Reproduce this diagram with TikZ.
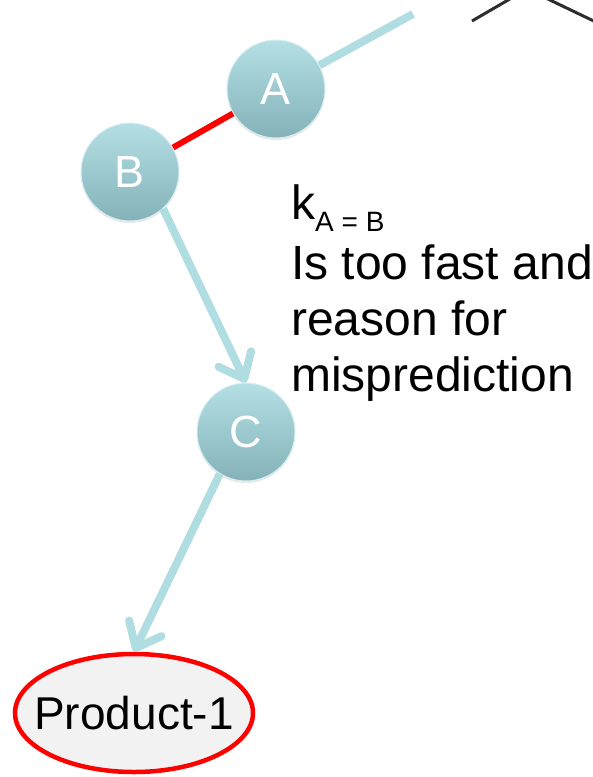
\documentclass[tikz,border=0pt]{standalone}
\usepackage{fontspec}
\setmainfont{Liberation Sans}
\usetikzlibrary{arrows.meta,shapes.geometric,shadows}
\definecolor{linkteal}{RGB}{176,221,226}
\definecolor{balltop}{RGB}{180,224,229}
\definecolor{ballbot}{RGB}{132,178,184}
\definecolor{prodfill}{RGB}{242,242,242}
\definecolor{chevron}{RGB}{45,45,45}

\begin{document}
\begin{tikzpicture}[x=1pt, y=-1pt,
  ball/.style={circle, minimum size=98pt, inner sep=0pt, top color=balltop, bottom color=ballbot,
    draw=balltop!50!white, line width=1pt, text=white, font=\fontsize{45}{45}\selectfont,
    drop shadow={opacity=0.18, shadow xshift=0pt, shadow yshift=-2pt}},
  link/.style={draw=linkteal, line width=8pt},
  flow/.style={link, -{Straight Barb[round, length=22pt, width=36pt]}}]
\useasboundingbox (0,0) rectangle (593,777);
\draw[chevron, line width=3pt, line join=round] (472,21) -- (527,-11) -- (600,24);
\node[ball] (A) at (276,89) {A};
\node[ball] (B) at (130,172) {B};
\node[ball] (C) at (246,432) {C};
\node[ellipse, draw=red, line width=4.5pt, fill=prodfill, minimum width=238pt, minimum height=118pt,
  inner xsep=-16pt, inner ysep=0pt, font=\fontsize{46}{46}\selectfont] (prod) at (134,713) {Product-1};
\coordinate (edge) at (413,14);
\draw[link] (A) -- (edge);
\draw[red, line width=6pt] (B) -- (A);
\draw[flow] (B.-48) -- (C.north);
\draw[flow] (C.-122) -- (prod.north);
\node[anchor=north west, align=left, inner sep=0pt, font=\fontsize{48}{56}\selectfont] (note) at (291,185)
  {k\raisebox{-12pt}{\fontsize{28}{30}\selectfont A = B}\\[4pt]Is too fast and\\reason for\\misprediction};
\end{tikzpicture}
\end{document}
